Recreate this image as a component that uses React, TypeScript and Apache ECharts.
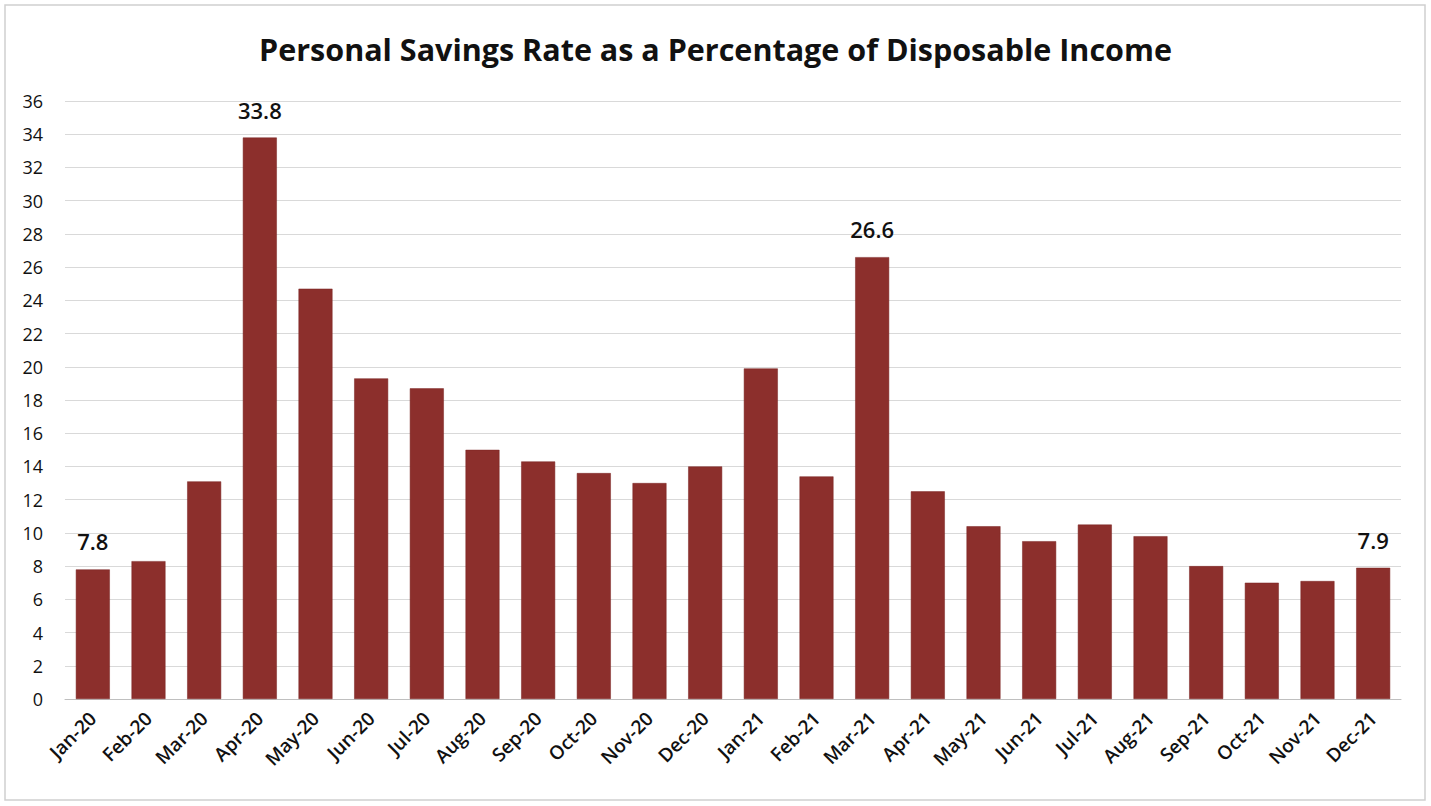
import React, { useEffect, useRef } from "react";
import * as echarts from "echarts";

const categories = [
  "Jan-20", "Feb-20", "Mar-20", "Apr-20", "May-20", "Jun-20", "Jul-20", "Aug-20",
  "Sep-20", "Oct-20", "Nov-20", "Dec-20", "Jan-21", "Feb-21", "Mar-21", "Apr-21",
  "May-21", "Jun-21", "Jul-21", "Aug-21", "Sep-21", "Oct-21", "Nov-21", "Dec-21",
];
const savingsRate = [
  7.8, 8.3, 13.1, 33.8, 24.7, 19.3, 18.7, 15.0,
  14.3, 13.6, 13.0, 14.0, 19.9, 13.4, 26.6, 12.5,
  10.4, 9.5, 10.5, 9.8, 8.0, 7.0, 7.1, 7.9,
];
const labeledIndices = [0, 3, 14, 23];
const title = "Personal Savings Rate as a Percentage of Disposable Income";

export default function App() {
  const ref = useRef<HTMLDivElement>(null);
  useEffect(() => {
    if (!ref.current) return;
    const chart = echarts.init(ref.current, null, { renderer: "svg" });
    const font = "'Open Sans', 'Noto Sans', sans-serif";
    chart.setOption({
      animation: false,
      backgroundColor: "#ffffff",
      title: {
        text: title,
        left: "center",
        top: 28,
        textStyle: { fontFamily: font, fontSize: 30.5, fontWeight: "bold", color: "#111111" },
      },
      graphic: [
        {
          type: "rect",
          shape: { x: 5, y: 5, width: 1420, height: 795 },
          style: { fill: "none", stroke: "#d0d0d0", lineWidth: 1.5 },
          silent: true,
        },
      ],
      grid: { left: 65, right: 30, top: 101, bottom: 107 },
      xAxis: {
        type: "category",
        data: categories,
        axisTick: { show: false },
        axisLine: { lineStyle: { color: "#bfbfbf", width: 1 } },
        axisLabel: {
          rotate: 45,
          interval: 0,
          margin: 16,
          fontFamily: font,
          fontSize: 19,
          fontWeight: 600,
          color: "#111111",
        },
      },
      yAxis: {
        type: "value",
        min: 0,
        max: 36,
        interval: 2,
        axisLine: { show: false },
        axisTick: { show: false },
        axisLabel: { margin: 22, fontFamily: font, fontSize: 18, color: "#111111" },
        splitLine: { lineStyle: { color: "#d9d9d9", width: 1 } },
      },
      series: [
        {
          type: "bar",
          data: savingsRate.map((v, i) => ({
            value: v,
            label: {
              show: labeledIndices.includes(i),
              position: "top",
              distance: 17,
              formatter: (p: any) => String(p.value.toFixed(1)),
              fontFamily: font,
              fontSize: 22,
              fontWeight: 600,
              color: "#111111",
            },
          })),
          barCategoryGap: "39%",
          itemStyle: { color: "#8c2f2c", borderColor: "#7a2422", borderWidth: 0.5 },
        },
      ],
    });
    return () => chart.dispose();
  }, []);
  return (
    <div
      ref={ref}
      style={{ position: "absolute", left: 0, top: 0, width: 1431, height: 806 }}
    />
  );
}
